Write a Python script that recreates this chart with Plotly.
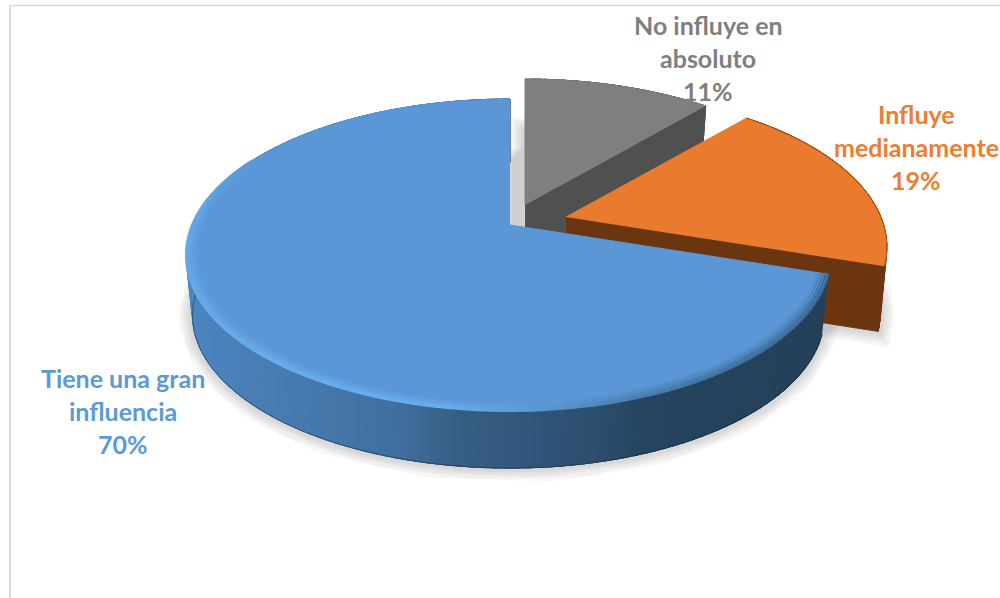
import math
import plotly.graph_objects as go

# ---- data ----
categories = ["No influye en absoluto", "Influye medianamente", "Tiene una gran influencia"]
values = [11.4, 18.6, 70.0]
label_lines = [["No influye en", "absoluto"], ["Influye", "medianamente"], ["Tiene una gran", "influencia"]]

# ---- styles / layout ----
top_colors = ["#7F7F7F", "#EA7B2E", "#5B97D6"]
wall_colors = ["#505050", "#6B3510", "#34597F"]
text_colors = ["#7F7F7F", "#ED7D31", "#5B9BD5"]
apexes = [(525, 205), (566, 217), (510, 225)]
depths = [50, 66, 61]
label_centers = [(708, 25), (916, 114), (123, 378)]
LINE_STEP = 33
FONT = "Lato"
FONT_SIZE = 25

B_RIGHT, B_LEFT, A, K = 315.0, 318.0, 150.2, 0.192
BOTTOM_SCALE = 0.98

blue_wall_stops = [(186, "#4A86C0"), (237, "#4A80B8"), (403, "#406F9E"), (463, "#375E84"),
                   (510, "#34597F"), (600, "#2C4E6F"), (650, "#26445F"), (800, "#244159"), (830, "#244159")]
rim_stops = [(186, "#68ADED"), (450, "#68ADED"), (520, "#5F9FDE"), (640, "#4A7FAE"), (830, "#35648E")]
rim_rings = [(0.966, 0.15), (0.975, 0.4), (0.984, 0.65), (0.992, 0.9), (1.0, 1.0)]


def project(theta, r=1.0):
    t = math.radians(theta)
    u, v = r * math.sin(t), r * math.cos(t)
    b = B_LEFT if u < 0 else B_RIGHT
    d = 1 + K * v
    return b * u / d, -A * v / d


def top_pt(i, theta, r=1.0):
    dx, dy = project(theta, r)
    return apexes[i][0] + dx, apexes[i][1] + dy


def bot_pt(i, theta, r=1.0):
    dx, dy = project(theta, r)
    return apexes[i][0] + dx * BOTTOM_SCALE, apexes[i][1] + dy * BOTTOM_SCALE + depths[i]


def hex_rgb(c):
    return tuple(int(c[j:j + 2], 16) for j in (1, 3, 5))


def mix(c0, c1, f):
    a, b = hex_rgb(c0), hex_rgb(c1)
    return "#%02X%02X%02X" % tuple(round(a[n] + (b[n] - a[n]) * f) for n in range(3))


def ramp(stops, x):
    if x <= stops[0][0]:
        return stops[0][1]
    for (x0, c0), (x1, c1) in zip(stops, stops[1:]):
        if x <= x1:
            return mix(c0, c1, (x - x0) / (x1 - x0))
    return stops[-1][1]


def frange(a, b, n):
    return [a + (b - a) * j / n for j in range(n + 1)]


fig = go.Figure()


def poly(pts, color):
    fig.add_trace(go.Scatter(x=[p[0] for p in pts], y=[p[1] for p in pts], mode="lines", fill="toself",
                             fillcolor=color, line=dict(color=color, width=1), hoverinfo="skip"))


def path(pts, color, width):
    fig.add_trace(go.Scatter(x=[p[0] for p in pts], y=[p[1] for p in pts], mode="lines",
                             line=dict(color=color, width=width), hoverinfo="skip"))


# slice angle ranges, clockwise from north
total = sum(values)
spans = []
start = 0.0
for val in values:
    end = start + 360.0 * val / total
    spans.append((start, end))
    start = end

# soft shadows
for i, (a0, a1) in enumerate(spans):
    outline = [bot_pt(i, 0, 0)] + [bot_pt(i, th) for th in frange(a0, a1, 80)] + [bot_pt(i, 0, 0)]
    for w in (28, 23, 18, 13, 8):
        fig.add_trace(go.Scatter(x=[p[0] for p in outline], y=[p[1] for p in outline], mode="lines",
                                 line=dict(color="rgba(0,0,0,0.03)", width=w), hoverinfo="skip"))

# slices back to front
for i, (a0, a1) in enumerate(spans):
    # radial wall on the clockwise end of the slice
    if i < 2:
        poly([top_pt(i, a1, 0), top_pt(i, a1), bot_pt(i, a1), bot_pt(i, a1, 0)], wall_colors[i])
    # outer wall strips (overlapping, so no seams show)
    n = 150 if i == 2 else 30
    th = frange(a0, a1, n)
    step = (a1 - a0) / n
    for t0 in th[:-1]:
        t1 = min(t0 + 2.5 * step, a1)
        p0 = top_pt(i, t0)
        color = ramp(blue_wall_stops, p0[0]) if i == 2 else wall_colors[i]
        poly([p0, top_pt(i, t1), bot_pt(i, t1), bot_pt(i, t0)], color)
    if i == 2:
        bottom_edge = [bot_pt(i, t) for t in frange(a0, 275, 120)]
        path(bottom_edge, "rgba(20,35,50,0.5)", 1)
    # top face
    poly([top_pt(i, a1, 0)] + [top_pt(i, t) for t in frange(a0, a1, 120)], top_colors[i])
    if i == 1:
        path([top_pt(i, t) for t in frange(a0, a1, 40)], "rgba(90,45,15,0.45)", 1.2)
    if i == 2:
        # lit rim along the front edge of the large slice
        for r, weight in rim_rings:
            th = frange(a0, 298, 80)
            for t0, t1 in zip(th, th[1:]):
                p0, p1 = top_pt(i, t0, r), top_pt(i, t1, r)
                fade = min(1.0, max(0.0, (298 - t0) / 35))
                path([p0, p1], mix(top_colors[2], ramp(rim_stops, p0[0]), weight * fade), 2.2)

# labels
annotations = []
for i, lines in enumerate(label_lines):
    text_lines = lines + ["%d%%" % round(values[i])]
    cx, y0 = label_centers[i]
    for j, line in enumerate(text_lines):
        annotations.append(dict(x=cx, y=y0 + j * LINE_STEP, text="<b>%s</b>" % line, showarrow=False,
                                xanchor="center", yanchor="middle",
                                font=dict(family=FONT, size=FONT_SIZE, color=text_colors[i])))

frame = [
    dict(type="line", x0=10, x1=10, y0=5, y1=598, line=dict(color="#D9D9D9", width=2)),
    dict(type="line", x0=9, x1=1000, y0=5.5, y1=5.5, line=dict(color="#D9D9D9", width=1.5)),
]

fig.update_layout(
    width=1000, height=598, margin=dict(l=0, r=0, t=0, b=0),
    paper_bgcolor="white", plot_bgcolor="white", showlegend=False,
    xaxis=dict(range=[0, 1000], visible=False, fixedrange=True),
    yaxis=dict(range=[598, 0], visible=False, fixedrange=True),
    annotations=annotations, shapes=frame,
)
fig.write_html("out.html", config={"displayModeBar": False},
               post_script="document.body.style.margin='0';document.documentElement.style.overflow='hidden';")
